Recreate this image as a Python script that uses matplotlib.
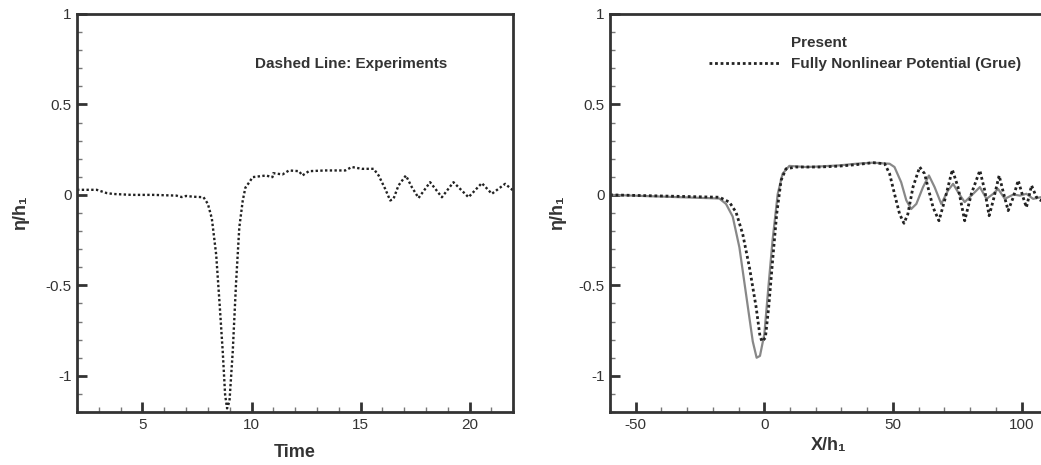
import matplotlib
matplotlib.use("Agg")
import matplotlib.pyplot as plt
from matplotlib.lines import Line2D
from matplotlib.ticker import MultipleLocator

plt.rcParams['font.family'] = ['Liberation Sans', 'DejaVu Sans']
plt.rcParams['axes.unicode_minus'] = False

# --- experiments (left panel), time vs eta/h1 ---
exp_t = [2.0, 2.9, 3.36, 3.66, 4.5, 5.5, 6.55, 6.8, 7.0, 7.31, 7.8, 8.0, 8.18, 8.38,
         8.53, 8.68, 8.79, 8.88, 8.99, 9.14, 9.29, 9.44, 9.6, 9.72, 9.9, 10.05, 10.66,
         10.96, 11.0, 11.42, 11.72, 12.18, 12.33, 12.63, 13.39, 14.3, 14.6, 15.06, 15.6,
         15.83, 16.13, 16.36, 16.51, 16.74, 17.08, 17.35, 17.66, 18.19, 18.73, 19.26,
         19.95, 20.56, 21.02, 21.63, 22.0]
exp_eta = [0.028, 0.028, 0.01, 0.005, 0.0, 0.0, -0.004, -0.012, -0.006, -0.01, -0.013,
           -0.05, -0.13, -0.33, -0.59, -0.865, -1.105, -1.18, -1.14, -0.865, -0.49,
           -0.18, -0.03, 0.04, 0.07, 0.098, 0.107, 0.098, 0.12, 0.113, 0.135, 0.131,
           0.107, 0.131, 0.135, 0.135, 0.154, 0.144, 0.144, 0.107, 0.033, -0.031,
           -0.022, 0.052, 0.107, 0.043, -0.017, 0.07, -0.013, 0.07, -0.013, 0.065,
           0.006, 0.061, 0.024]

# --- present model (right panel, solid grey) ---
pres_x = [-60, -17.5, -14.9, -12.3, -9.7, -7.1, -4.5, -3.0, -1.7, 0.0, 1.7, 3.2, 5.2,
          7.1, 9.7, 16.2, 21.4, 29.2, 35.7, 42.2, 48.7, 50.6, 53.2, 55.2, 57.1, 59.1,
          61.7, 64.0, 66.2, 68.8, 71.4, 73.4, 75.7, 77.9, 81.2, 83.8, 86.4, 89.0, 90.9,
          93.5, 96.8, 99.4, 101.9, 104.5, 107.5, 110]
pres_eta = [0.0, -0.02, -0.05, -0.12, -0.29, -0.55, -0.81, -0.9, -0.89, -0.77, -0.49,
            -0.25, 0.005, 0.117, 0.16, 0.154, 0.157, 0.163, 0.172, 0.178, 0.172, 0.154,
            0.07, -0.03, -0.078, -0.05, 0.043, 0.107, 0.043, -0.05, 0.024, 0.061, 0.006,
            -0.04, 0.006, 0.043, -0.022, 0.006, 0.033, -0.022, 0.002, -0.004, 0.006,
            -0.022, -0.013, -0.01]

# --- fully nonlinear potential (Grue), dotted ---
grue_x = [-60, -17.5, -13.6, -11.0, -8.4, -5.8, -3.2, -1.7, -0.9, 0.4, 1.7, 3.2, 4.8,
          6.5, 8.4, 12.3, 21.4, 29.2, 35.7, 42.2, 46.8, 48.7, 50.6, 52.6, 54.3, 55.8,
          57.8, 60.4, 62.3, 65.6, 67.9, 70.1, 73.1, 75.3, 77.9, 80.5, 83.8, 85.7, 87.4,
          89.0, 91.3, 92.9, 94.8, 96.8, 98.7, 100.6, 101.9, 103.9, 105.8, 107.5, 110]
grue_eta = [0.0, -0.013, -0.04, -0.096, -0.217, -0.4, -0.62, -0.78, -0.81, -0.79,
            -0.62, -0.365, -0.106, 0.08, 0.144, 0.154, 0.154, 0.159, 0.167, 0.178,
            0.172, 0.117, 0.006, -0.106, -0.157, -0.106, 0.043, 0.154, 0.117, -0.069,
            -0.143, -0.031, 0.139, 0.043, -0.143, 0.006, 0.135, 0.024, -0.115, -0.031,
            0.107, 0.015, -0.087, -0.013, 0.08, -0.013, -0.069, 0.052, -0.013, -0.031,
            0.0]

yticks = [-1, -0.5, 0, 0.5, 1]
ytick_labels = ['-1', '-0.5', '0', '0.5', '1']

fig = plt.figure(figsize=(10.41, 4.65), dpi=100)
ax1 = fig.add_axes([0.074, 0.114, 0.419, 0.856])
ax2 = fig.add_axes([0.586, 0.114, 0.42, 0.856])

dot_style = (0, (1, 1))
txt = '#333333'

for ax in (ax1, ax2):
    ax.set_ylim(-1.2, 1)
    ax.set_yticks(yticks)
    ax.set_yticklabels(ytick_labels)
    ax.yaxis.set_minor_locator(MultipleLocator(0.1))
    for s in ax.spines.values():
        s.set_linewidth(2)
        s.set_color(txt)
    ax.tick_params(which='both', direction='in', top=False, right=False,
                   colors=txt, labelsize=11, pad=4)
    ax.tick_params(which='major', length=7, width=2)
    ax.tick_params(which='minor', length=3.5, width=1, color='#777777')
    ax.set_ylabel('η/h₁', fontsize=13, fontweight='bold', color=txt)

# left panel
ax1.plot(exp_t, exp_eta, color='#222222', lw=1.7, linestyle=dot_style)
ax1.set_xlim(2, 22)
ax1.set_xticks([5, 10, 15, 20])
ax1.xaxis.set_minor_locator(MultipleLocator(1))
ax1.set_xlabel('Time', fontsize=13, fontweight='bold', color=txt, labelpad=9)
ax1.yaxis.set_label_coords(-0.11, 0.5)
ax1.text(0.628, 0.875, 'Dashed Line: Experiments', transform=ax1.transAxes,
         ha='center', va='center', fontsize=11, fontweight='bold', color=txt)

# right panel
ax2.plot(pres_x, pres_eta, color='#888888', lw=1.6, label='Present')
ax2.plot(grue_x, grue_eta, color='#222222', lw=2, linestyle=dot_style,
         label='Fully Nonlinear Potential (Grue)')
ax2.set_xlim(-60, 110)
ax2.set_xticks([-50, 0, 50, 100])
ax2.xaxis.set_minor_locator(MultipleLocator(10))
ax2.set_xlabel('X/h₁', fontsize=13, fontweight='bold', color=txt, labelpad=4)
ax2.yaxis.set_label_coords(-0.1, 0.5)

handles = [Line2D([], [], color='none'),
           Line2D([], [], color='#222222', lw=2, linestyle=dot_style)]
leg = ax2.legend(handles, ['Present', 'Fully Nonlinear Potential (Grue)'],
                 loc='upper left', bbox_to_anchor=(0.195, 0.978), frameon=False,
                 handlelength=4.6, handletextpad=0.75, labelspacing=0.45,
                 prop={'size': 11, 'weight': 'bold'})
for t in leg.get_texts():
    t.set_color(txt)

fig.savefig('out.png', dpi=100)
